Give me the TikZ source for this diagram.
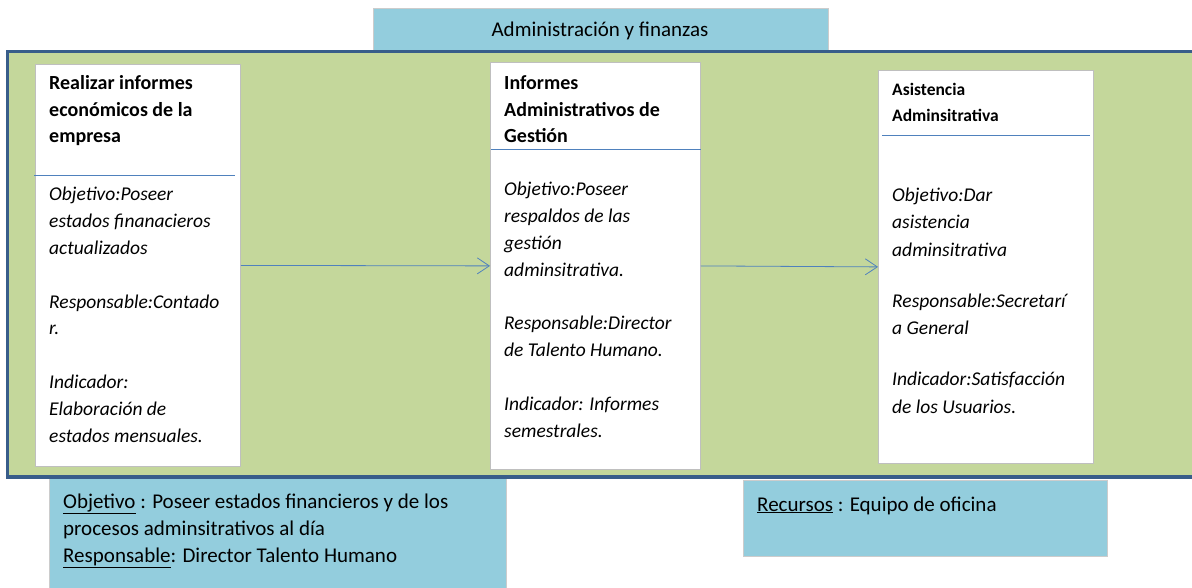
\documentclass[tikz,border=0pt]{standalone}
\usepackage{fontspec}
\setmainfont{Carlito}
\usetikzlibrary{arrows.meta}
\definecolor{verde}{HTML}{C4D79B}
\definecolor{celeste}{HTML}{93CDDD}
\definecolor{marco}{HTML}{385D8A}
\definecolor{linea}{HTML}{4F81BD}

\begin{document}
\begin{tikzpicture}[x=1pt, y=-1pt,
  caja/.style = {draw=black!25, fill=white, line width=0.8pt,
    anchor=north west, inner sep=0pt},
  nota/.style = {draw=black!20, fill=celeste, line width=0.8pt,
    anchor=north west, inner sep=0pt},
  titulo/.style = {anchor=base west, align=left, inner sep=0pt,
    font=\fontsize{20}{26.5}\selectfont\bfseries},
  texto/.style = {anchor=base west, align=left, inner sep=0pt,
    font=\fontsize{19.5}{26.8}\selectfont\itshape},
  plano/.style = {anchor=base west, align=left, inner sep=0pt,
    font=\fontsize{21}{27}\selectfont},
  flecha/.style = {draw=linea, line width=0.8pt,
    -{Straight Barb[length=12pt,width=16pt]}}]
  \useasboundingbox (0,0) rectangle (1192,588);

  \node[nota, minimum width=455pt, minimum height=46pt] (area) at (373,8) {};
  \node[plano, anchor=base] (areatxt) at (600,37) {Administración y finanzas};

  \node[nota, minimum width=457pt, minimum height=115pt] (objetivo) at (49,478) {};
  \node[plano] (objtxt) at (63,562)
    {\underline{Objetivo} : Poseer estados financieros y de los\\
     procesos adminsitrativos al día\\
     \underline{Responsable}: Director Talento Humano};
  \node[nota, minimum width=364pt, minimum height=76pt] (recursos) at (743,480) {};
  \node[plano] (rectxt) at (757,511) {\underline{Recursos} : Equipo de oficina};

  \draw[draw=marco, fill=verde, line width=3.5pt] (7.5,51.5) rectangle (1205,477);

  \node[caja, minimum width=205pt, minimum height=402pt] (act1) at (35,64) {};
  \node[caja, minimum width=210pt, minimum height=407pt] (act2) at (490,62) {};
  \node[caja, minimum width=215pt, minimum height=393pt] (act3) at (878,70) {};

  \draw[linea, line width=0.8pt] (34,175) -- (235,175);
  \draw[linea, line width=0.8pt] (491,149) -- (701,149);
  \draw[linea, line width=0.8pt] (882,135) -- (1090,135);

  \node[titulo] (tit1) at (49,143) {Realizar informes\\económicos de la\\empresa};
  \node[titulo] (tit2) at (504,143) {Informes\\Administrativos de\\Gestión};
  \node[titulo, font=\fontsize{17.5}{26}\selectfont\bfseries] (tit3) at (892,122)
    {Asistencia\\Adminsitrativa};

  \node[texto] (txt1) at (49,442)
    {Objetivo:Poseer\\estados finanacieros\\actualizados\\[26.8pt]
     Responsable:Contado\\r.\\[26.8pt]
     Indicador:\\Elaboración de\\estados mensuales.};
  \node[texto] (txt2) at (504,437)
    {Objetivo:Poseer\\respaldos de las\\gestión\\adminsitrativa.\\[26.8pt]
     Responsable:Director\\de Talento Humano.\\[26.8pt]
     Indicador: Informes\\semestrales.};
  \node[texto, font=\fontsize{19.5}{27.5}\selectfont\itshape] (txt3) at (892,413)
    {Objetivo:Dar\\asistencia\\adminsitrativa\\[23.5pt]
     Responsable:Secretarí\\a General\\[23.5pt]
     Indicador:Satisfacción\\de los Usuarios.};

  \draw[flecha] (act1.east) -- (act2.west);
  \draw[flecha] (act2.east) -- (act3.west);
\end{tikzpicture}
\end{document}
